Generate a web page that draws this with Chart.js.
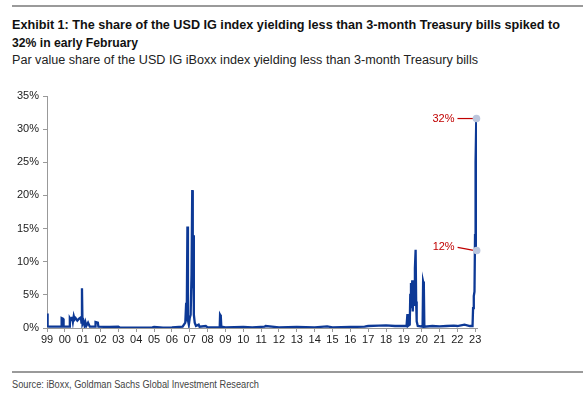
<!DOCTYPE html>
<html>
<head>
<meta charset="utf-8">
<script src="https://cdn.jsdelivr.net/npm/chart.js@4"></script>
<style>
  html, body { margin: 0; padding: 0; background: #fff; }
  body { width: 583px; height: 399px; position: relative; overflow: hidden;
         font-family: "Liberation Sans", Arial, sans-serif; }
  .rule { position: absolute; left: 12px; right: 0; height: 2px; background: #9a9a9a; }
  .line { position: absolute; left: 12px; white-space: nowrap; line-height: 1; transform-origin: 0 0; }
  .title { font-size: 13px; font-weight: bold; color: #111; }
  #subtitle { font-size: 12px; color: #222; }
  #source { font-size: 10px; color: #444; }
  #wrap { position: absolute; left: 0; top: 80px; width: 583px; height: 280px; }
</style>
</head>
<body>
<div class="rule" style="top:5px"></div>
<div class="line title" style="top:17.7px" data-w="548">Exhibit 1: The share of the USD IG index yielding less than 3-month Treasury bills spiked to</div>
<div class="line title" style="top:36.3px" data-w="126">32% in early February</div>
<div class="line" id="subtitle" style="top:54px" data-w="466">Par value share of the USD IG iBoxx index yielding less than 3-month Treasury bills</div>
<div id="wrap"><canvas id="chart"></canvas></div>
<div class="rule" style="top:371px; height:1.5px"></div>
<div class="line" id="source" style="top:379.8px" data-w="247">Source: iBoxx, Goldman Sachs Global Investment Research</div>

<script>
// dates as fractional years, share in %
const dates = [
  1999.00, 1999.02, 1999.05, 1999.10, 1999.50, 1999.80, 1999.82, 1999.90, 1999.93,
  2000.25, 2000.28, 2000.35, 2000.40, 2000.45, 2000.50, 2000.55, 2000.60, 2000.70, 2000.80, 2000.90,
  2000.93, 2000.96, 2000.99, 2001.05, 2001.10, 2001.15, 2001.20, 2001.30, 2001.40, 2001.70,
  2001.72, 2001.85, 2001.88, 2002.50, 2003.00, 2003.10, 2004.00, 2004.90, 2005.00, 2005.50,
  2006.00, 2006.60, 2006.75, 2006.80, 2006.83, 2006.87, 2006.90, 2006.95, 2007.00, 2007.05,
  2007.10, 2007.14, 2007.16, 2007.18, 2007.20, 2007.23, 2007.28, 2007.35, 2007.50, 2007.55,
  2007.90, 2008.00, 2008.68, 2008.70, 2008.74, 2008.77, 2009.00, 2010.00, 2010.50, 2011.20,
  2011.25, 2012.00, 2013.00, 2014.00, 2014.70, 2015.00, 2016.00, 2016.80, 2017.00, 2017.60,
  2018.00, 2018.50, 2019.00, 2019.15, 2019.20, 2019.23, 2019.33, 2019.36, 2019.40, 2019.43,
  2019.47, 2019.50, 2019.53, 2019.58, 2019.62, 2019.66, 2019.69, 2019.72, 2019.78, 2020.05,
  2020.08, 2020.12, 2020.15, 2020.60, 2021.00, 2021.40, 2021.80, 2022.00, 2022.40, 2022.70,
  2022.85, 2022.88, 2022.92, 2022.96, 2022.99, 2023.02, 2023.06, 2023.08
];
const shares = [
  1.2, 2.2, 0.3, 0.2, 0.2, 0.2, 1.5, 1.4, 0.2,
  0.2, 1.5, 1.2, 1.7, 0.9, 1.8, 1.3, 1.5, 1.1, 1.4, 1.6,
  0.8, 6.0, 0.6, 1.0, 0.4, 0.9, 0.3, 0.8, 0.2, 0.2,
  0.9, 0.8, 0.2, 0.15, 0.2, 0.05, 0.05, 0.1, 0.15, 0.05,
  0.1, 0.2, 0.8, 3.8, 1.0, 15.3, 1.2, 0.5, 1.5, 2.0,
  8.0, 20.8, 20.5, 6.0, 14.0, 2.0, 0.8, 0.3, 0.5, 0.2,
  0.3, 0.1, 0.1, 2.0, 1.8, 0.2, 0.1, 0.15, 0.1, 0.2,
  0.3, 0.1, 0.15, 0.1, 0.25, 0.1, 0.15, 0.2, 0.3, 0.35,
  0.4, 0.3, 0.3, 0.3, 2.1, 0.3, 0.5, 5.0, 6.8, 3.0,
  7.2, 2.5, 5.5, 3.5, 9.0, 11.8, 4.0, 1.0, 0.3, 0.2,
  7.0, 6.5, 0.2, 0.3, 0.25, 0.3, 0.35, 0.3, 0.5, 0.3,
  0.3, 3.0, 4.8, 5.5, 14.0, 25.0, 31.6, 11.7
];
const callouts = [
  { x: 2023.07, y: 31.6, label: '32%', dy: 0 },
  { x: 2023.08, y: 11.7, label: '12%', dy: -3 }
];
const yearTicks = [1999, 2000, 2001, 2002, 2003, 2004, 2005, 2006, 2007, 2008, 2009, 2010,
  2011, 2012, 2013, 2014, 2015, 2016, 2017, 2018, 2019, 2020, 2021, 2022, 2023];
const yTicks = [0, 5, 10, 15, 20, 25, 30, 35];

// squeeze html text lines to the condensed widths of the original
document.querySelectorAll('.line').forEach(el => {
  const w = el.getBoundingClientRect().width;
  el.style.transform = `scaleX(${(+el.dataset.w / w).toFixed(4)})`;
});

const calloutPlugin = {
  id: 'callouts',
  afterDatasetsDraw(chart) {
    const { ctx, scales: { x, y } } = chart;
    ctx.save();
    callouts.forEach(c => {
      const px = x.getPixelForValue(c.x);
      const py = y.getPixelForValue(c.y);
      ctx.strokeStyle = '#c00000';
      ctx.lineWidth = 1.2;
      ctx.beginPath();
      ctx.moveTo(px - 19, py + c.dy);
      ctx.lineTo(px - 3, py);
      ctx.stroke();
      ctx.fillStyle = '#c00000';
      ctx.font = '11px "Liberation Sans", Arial, sans-serif';
      ctx.textAlign = 'right';
      ctx.textBaseline = 'middle';
      ctx.fillText(c.label, px - 22, py + c.dy);
      ctx.fillStyle = '#bcc6dd';
      ctx.beginPath();
      ctx.arc(px, py, 3.8, 0, Math.PI * 2);
      ctx.fill();
    });
    ctx.restore();
  }
};

new Chart(document.getElementById('chart'), {
  type: 'line',
  data: {
    datasets: [{
      data: dates.map((d, i) => ({ x: d, y: shares[i] })),
      borderColor: '#0d3996',
      borderWidth: 2.3,
      pointRadius: 0,
      tension: 0,
      fill: false
    }]
  },
  options: {
    responsive: true,
    maintainAspectRatio: false,
    animation: false,
    layout: { padding: { top: 16, right: 106, bottom: 0, left: 0 } },
    plugins: { legend: { display: false }, tooltip: { enabled: false } },
    scales: {
      x: {
        type: 'linear',
        min: 1999,
        max: 2023.1,
        afterBuildTicks: axis => { axis.ticks = yearTicks.map(v => ({ value: v })); },
        afterFit: axis => { axis.height = 32; },
        ticks: {
          autoSkip: false,
          maxRotation: 0,
          color: '#222',
          font: { family: '"Liberation Sans", Arial, sans-serif', size: 11 },
          padding: 1,
          callback: v => String(v % 100).padStart(2, '0')
        },
        grid: { display: true, drawOnChartArea: false, drawTicks: true, tickLength: 4, color: '#999' },
        border: { display: true, color: '#999', width: 1 }
      },
      y: {
        min: 0,
        max: 35,
        afterBuildTicks: axis => { axis.ticks = yTicks.map(v => ({ value: v })); },
        afterFit: axis => { axis.width = 47; },
        ticks: {
          color: '#222',
          font: { family: '"Liberation Sans", Arial, sans-serif', size: 11 },
          padding: 4,
          callback: v => v + '%'
        },
        grid: { display: true, drawOnChartArea: false, drawTicks: true, tickLength: 4, color: '#999' },
        border: { display: true, color: '#999', width: 1 }
      }
    }
  },
  plugins: [calloutPlugin]
});
</script>
</body>
</html>
